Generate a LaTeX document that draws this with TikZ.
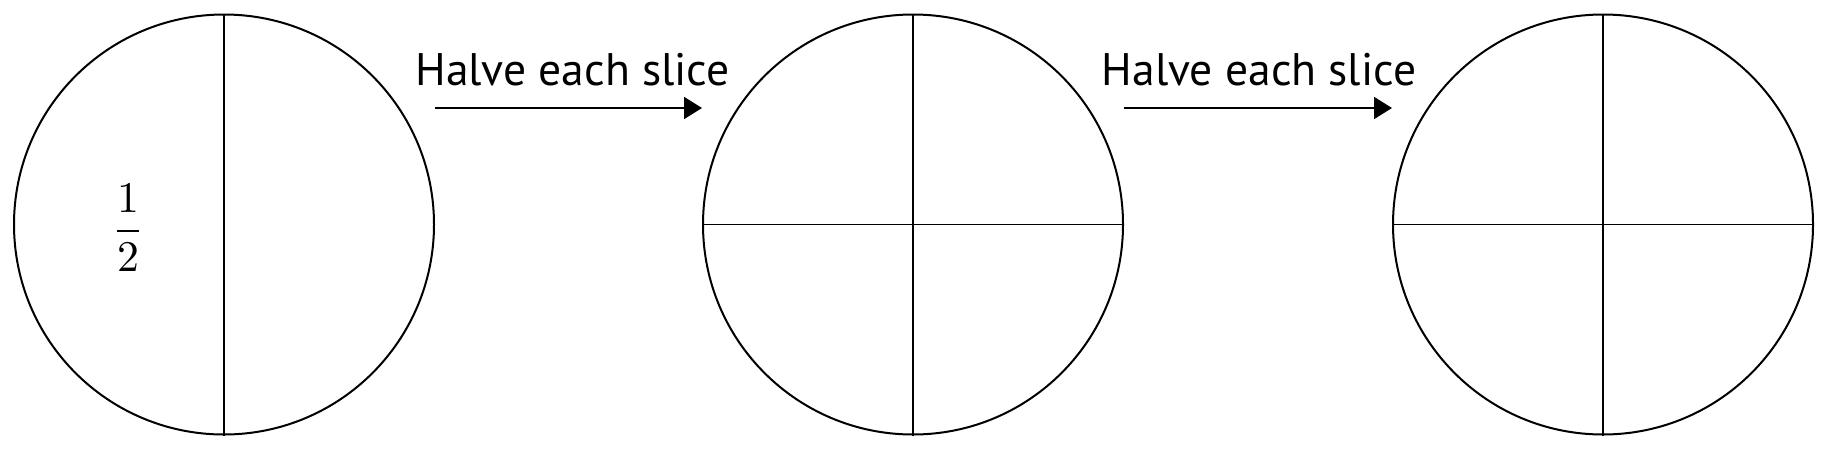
\documentclass[tikz,border=0pt]{standalone}
\usepackage{fontspec}
\newfontfamily\labelfont{PT Sans}
\usetikzlibrary{arrows.meta}
\begin{document}
\begin{tikzpicture}[x=0.25pt,y=-0.25pt,
  pie/.style={draw=black,line width=0.5pt,circle,minimum size=105pt,inner sep=0pt},
  cut/.style={line width=0.45pt},
  step arrow/.style={line width=0.45pt,-{Triangle[length=4.5pt,width=5.5pt]}},
  lab/.style={font=\labelfont\fontsize{11.4}{13}\selectfont,anchor=base,inner sep=0pt}]
\useasboundingbox (0,0) rectangle (1828,450);
\node[pie] (c1) at (224,224.5) {};
\node[pie] (c2) at (913,224.5) {};
\node[pie] (c3) at (1603,224.5) {};
\draw[cut] (c1.north) -- (c1.south);
\draw[cut] (c2.north) -- (c2.south);
\draw[cut] (c2.west) -- (c2.east);
\draw[cut] (c3.north) -- (c3.south);
\draw[cut] (c3.west) -- (c3.east);
\node[inner sep=0pt,font=\fontsize{11}{13}\selectfont] (f) at (128,228) {$\displaystyle\frac{1}{2}$};
\node[lab] (t1) at (572.5,85) {Halve each slice};
\node[lab] (t2) at (1259,85) {Halve each slice};
\coordinate (a1s) at (c1.east |- 0,108);
\coordinate (a1e) at (c2.west |- 0,108);
\coordinate (a2s) at (c2.east |- 0,108);
\coordinate (a2e) at (c3.west |- 0,108);
\draw[step arrow] (a1s) -- (a1e);
\draw[step arrow] (a2s) -- (a2e);
\end{tikzpicture}
\end{document}
